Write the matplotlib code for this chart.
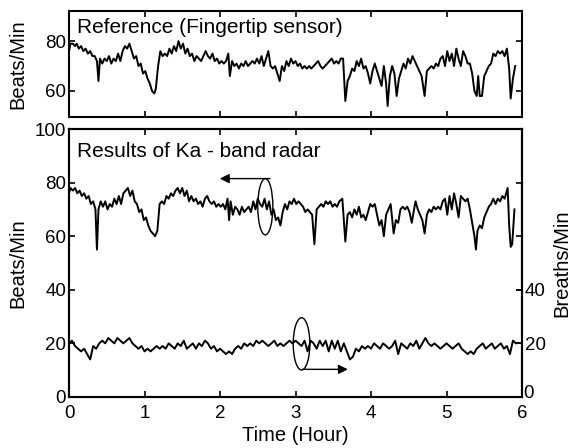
import numpy as np
import matplotlib
matplotlib.use("Agg")
import matplotlib.pyplot as plt
from matplotlib.patches import Ellipse

plt.rcParams["font.family"] = ["Liberation Sans", "DejaVu Sans"]
plt.rcParams["font.size"] = 13

# === Reference heart rate (fingertip sensor) ===
ref_t = [0.00, 0.02, 0.05, 0.08, 0.10, 0.13, 0.16, 0.19, 0.22, 0.25, 0.28, 0.31, 0.34, 0.37, 0.39,
         0.41, 0.44, 0.47, 0.50, 0.53, 0.56, 0.59, 0.62, 0.65, 0.68, 0.71, 0.74, 0.77, 0.80, 0.83,
         0.86, 0.89, 0.92, 0.95, 0.98, 1.01, 1.04, 1.07, 1.10, 1.13, 1.15, 1.18, 1.21, 1.24, 1.27,
         1.30, 1.33, 1.36, 1.39, 1.42, 1.45, 1.48, 1.51, 1.54, 1.57, 1.60, 1.63, 1.66, 1.69, 1.72,
         1.75, 1.78, 1.81, 1.84, 1.87, 1.90, 1.93, 1.96, 1.99, 2.02, 2.05, 2.08, 2.11, 2.13, 2.16,
         2.19, 2.22, 2.25, 2.28, 2.31, 2.34, 2.37, 2.40, 2.43, 2.46, 2.49, 2.52, 2.55, 2.58, 2.61,
         2.64, 2.67, 2.70, 2.73, 2.76, 2.79, 2.82, 2.85, 2.88, 2.91, 2.94, 2.97, 3.00, 3.03, 3.06,
         3.09, 3.12, 3.15, 3.18, 3.21, 3.24, 3.27, 3.30, 3.33, 3.36, 3.39, 3.42, 3.45, 3.48, 3.51,
         3.54, 3.57, 3.60, 3.63, 3.66, 3.69, 3.72, 3.75, 3.78, 3.81, 3.84, 3.87, 3.90, 3.93, 3.96,
         3.99, 4.02, 4.05, 4.08, 4.11, 4.14, 4.17, 4.20, 4.22, 4.25, 4.28, 4.31, 4.34, 4.37, 4.40,
         4.43, 4.46, 4.49, 4.52, 4.55, 4.58, 4.61, 4.64, 4.67, 4.71, 4.74, 4.77, 4.80, 4.83, 4.86,
         4.89, 4.92, 4.95, 4.98, 5.01, 5.04, 5.07, 5.10, 5.13, 5.16, 5.19, 5.22, 5.25, 5.28, 5.31,
         5.34, 5.37, 5.40, 5.42, 5.44, 5.47, 5.50, 5.53, 5.56, 5.59, 5.62, 5.65, 5.68, 5.71, 5.74,
         5.77, 5.80, 5.83, 5.85, 5.88, 5.91]
ref_hr = [76, 79, 79, 78, 79, 77, 78, 76, 77, 75, 76, 74, 74, 72, 64,
          73, 71, 73, 72, 74, 71, 73, 72, 75, 72, 76, 78, 77, 79, 76,
          73, 74, 70, 71, 67, 68, 65, 63, 60, 59, 61, 70, 76, 74, 75,
          74, 77, 75, 78, 76, 80, 77, 79, 75, 77, 74, 75, 72, 74, 73,
          72, 74, 76, 74, 73, 75, 72, 73, 71, 72, 71, 72, 75, 66, 72,
          70, 71, 69, 71, 70, 72, 70, 71, 72, 71, 73, 71, 74, 70, 73,
          76, 70, 69, 70, 67, 64, 70, 68, 72, 70, 73, 71, 72, 70, 71,
          69, 70, 69, 70, 69, 70, 71, 72, 70, 69, 70, 71, 72, 73, 71,
          72, 71, 73, 73, 56, 64, 66, 69, 68, 72, 70, 73, 69, 70, 67,
          63, 68, 71, 68, 65, 62, 70, 63, 54, 66, 70, 67, 58, 65, 68,
          71, 69, 73, 71, 74, 72, 70, 68, 66, 58, 68, 69, 70, 69, 71,
          70, 73, 74, 70, 76, 72, 75, 70, 77, 73, 70, 76, 74, 71, 71,
          67, 60, 58, 66, 58, 58, 66, 68, 70, 71, 75, 74, 76, 75, 76,
          74, 77, 69, 57, 65, 70]

# === Ka-band radar heart rate ===
radar_t = [0.00, 0.02, 0.05, 0.08, 0.11, 0.14, 0.17, 0.20, 0.23, 0.26, 0.29, 0.32, 0.35, 0.37, 0.39,
           0.42, 0.45, 0.48, 0.51, 0.54, 0.57, 0.60, 0.63, 0.66, 0.69, 0.72, 0.75, 0.78, 0.81, 0.84,
           0.87, 0.90, 0.93, 0.96, 0.99, 1.02, 1.05, 1.08, 1.11, 1.14, 1.17, 1.20, 1.23, 1.26, 1.29,
           1.32, 1.35, 1.38, 1.41, 1.44, 1.47, 1.50, 1.53, 1.56, 1.59, 1.62, 1.65, 1.68, 1.71, 1.74,
           1.77, 1.80, 1.83, 1.86, 1.89, 1.92, 1.95, 1.98, 2.01, 2.04, 2.07, 2.10, 2.12, 2.14, 2.17,
           2.20, 2.23, 2.26, 2.29, 2.32, 2.35, 2.38, 2.41, 2.44, 2.47, 2.50, 2.53, 2.56, 2.59, 2.62,
           2.65, 2.68, 2.71, 2.74, 2.77, 2.80, 2.83, 2.86, 2.89, 2.92, 2.95, 2.98, 3.01, 3.04, 3.07,
           3.10, 3.13, 3.16, 3.19, 3.22, 3.25, 3.28, 3.31, 3.34, 3.37, 3.40, 3.43, 3.46, 3.49, 3.52,
           3.55, 3.58, 3.62, 3.66, 3.69, 3.72, 3.75, 3.78, 3.81, 3.84, 3.87, 3.90, 3.93, 3.96, 3.99,
           4.02, 4.05, 4.08, 4.11, 4.14, 4.17, 4.20, 4.23, 4.26, 4.30, 4.33, 4.36, 4.39, 4.42, 4.45,
           4.48, 4.51, 4.54, 4.57, 4.59, 4.62, 4.65, 4.68, 4.71, 4.74, 4.77, 4.80, 4.83, 4.86, 4.89,
           4.92, 4.95, 4.98, 5.01, 5.04, 5.07, 5.10, 5.13, 5.16, 5.19, 5.22, 5.25, 5.28, 5.31, 5.34,
           5.37, 5.39, 5.41, 5.44, 5.47, 5.50, 5.53, 5.56, 5.59, 5.62, 5.65, 5.68, 5.71, 5.74, 5.77,
           5.81, 5.83, 5.85, 5.87, 5.90]
radar_hr = [76, 78, 77, 78, 76, 77, 75, 76, 74, 75, 72, 73, 70, 55, 70,
            73, 71, 73, 70, 72, 71, 74, 72, 75, 72, 76, 77, 78, 75, 77,
            73, 72, 69, 70, 66, 67, 64, 62, 61, 60, 62, 72, 73, 72, 75,
            74, 76, 75, 77, 78, 76, 78, 75, 77, 73, 75, 73, 74, 72, 73,
            71, 74, 75, 73, 72, 73, 71, 72, 71, 72, 70, 74, 66, 73, 68,
            71, 70, 68, 71, 69, 70, 71, 69, 73, 70, 74, 72, 71, 74, 70,
            73, 68, 70, 66, 67, 64, 69, 72, 70, 73, 72, 74, 72, 73, 72,
            71, 69, 70, 69, 68, 57, 70, 71, 72, 71, 73, 72, 73, 71, 72,
            71, 73, 74, 58, 68, 69, 67, 70, 68, 71, 67, 68, 66, 69, 72,
            71, 72, 68, 64, 66, 60, 68, 70, 72, 61, 66, 65, 70, 71, 70,
            71, 69, 65, 70, 73, 70, 68, 66, 61, 68, 70, 69, 71, 70, 71,
            70, 73, 74, 68, 75, 70, 76, 72, 67, 75, 74, 73, 74, 70, 65,
            60, 55, 62, 64, 63, 67, 69, 71, 72, 74, 72, 74, 73, 75, 74,
            78, 64, 56, 57, 70]

# === Ka-band radar respiration rate, one reading every 0.04 h ===
breath_step = 0.04
breath_rr = [20, 21, 19, 18, 17, 18, 16, 14, 19, 18, 20, 21, 20, 22, 21, 20, 22, 21, 20, 21,
             22, 20, 19, 18, 19, 17, 18, 17, 18, 19, 18, 19, 18, 20, 19, 18, 20, 19, 21, 18,
             19, 20, 18, 20, 19, 21, 20, 18, 19, 17, 18, 17, 16, 17, 16, 18, 19, 18, 20, 19,
             20, 19, 21, 20, 21, 20, 19, 20, 21, 19, 20, 19, 20, 21, 20, 21, 20, 19, 21, 17,
             21, 20, 18, 21, 19, 21, 17, 21, 18, 21, 17, 20, 17, 14, 15, 18, 17, 19, 18, 19,
             18, 20, 19, 18, 20, 19, 18, 19, 21, 16, 20, 19, 18, 20, 19, 21, 18, 20, 22, 20,
             19, 20, 19, 18, 19, 20, 19, 18, 19, 20, 18, 17, 16, 17, 16, 18, 19, 20, 18, 19,
             20, 18, 19, 20, 18, 19, 16, 21, 20]
breath_t = np.arange(len(breath_rr)) * breath_step

fig = plt.figure(figsize=(5.8, 4.48), dpi=100)
ax_top = fig.add_axes([0.119, 0.739, 0.781, 0.236])
ax = fig.add_axes([0.119, 0.114, 0.781, 0.598])
ax_r = ax.twinx()

lw = 1.4
for a in (ax_top, ax, ax_r):
    for s in a.spines.values():
        s.set_linewidth(1.5)
    a.tick_params(direction="in", width=1.2, length=4, labelsize=13.5)

# --- top panel ---
ax_top.plot(ref_t, ref_hr, color="k", lw=lw)
ax_top.set_xlim(0, 6)
ax_top.set_ylim(49.6, 92)
ax_top.set_yticks([60, 80])
ax_top.set_xticks(range(7))
ax_top.set_xticklabels([])
ax_top.tick_params(top=True, right=True, pad=2)
ax_top.set_ylabel("Beats/Min", fontsize=14.5)
ax_top.yaxis.set_label_coords(-0.093, 0.5)
ax_top.text(0.1, 85.6, "Reference (Fingertip sensor)", fontsize=15, va="center")

# --- bottom panel ---
ax.plot(radar_t, radar_hr, color="k", lw=lw)
ax.set_xlim(0, 6)
ax.set_ylim(0, 100)
ax.set_yticks(range(0, 101, 20))
ax.set_xticks(range(7))
ax.tick_params(top=True, right=True)
ax.tick_params(axis="y", pad=2)
ax.tick_params(axis="x", pad=6)
ax.set_ylabel("Beats/Min", fontsize=14.5)
ax.yaxis.set_label_coords(-0.093, 0.5)
ax.set_xlabel("Time (Hour)", fontsize=14.5, labelpad=3)
ax.text(0.1, 91.5, "Results of Ka - band radar", fontsize=15, va="center")

ax_r.plot(breath_t, breath_rr, color="k", lw=lw)
ax_r.set_ylim(0, 100)
ax_r.set_yticks([0, 20, 40])
ax_r.set_yticklabels(["", "20", "40"])
ax_r.tick_params(pad=2)
ax_r.set_ylabel("Breaths/Min", fontsize=14.5, labelpad=5)
# the right-hand zero sits a little above the axis corner
ax_r.text(1.003, 0.013, "0", transform=ax_r.transAxes, fontsize=13.5, ha="left", va="center")

# circled groups with arrows pointing to their axis
ax.add_patch(Ellipse((2.60, 71), 0.2, 21, fill=False, lw=1.0, color="k"))
ax.annotate("", xy=(1.96, 81.5), xytext=(2.70, 81.5),
            arrowprops=dict(arrowstyle="-|>", color="k", lw=1.0, mutation_scale=14))
ax.add_patch(Ellipse((3.08, 19.8), 0.22, 19.5, fill=False, lw=1.0, color="k"))
ax.annotate("", xy=(3.73, 10.3), xytext=(3.06, 10.3),
            arrowprops=dict(arrowstyle="-|>", color="k", lw=1.0, mutation_scale=14))

fig.savefig("out.png", dpi=100)
